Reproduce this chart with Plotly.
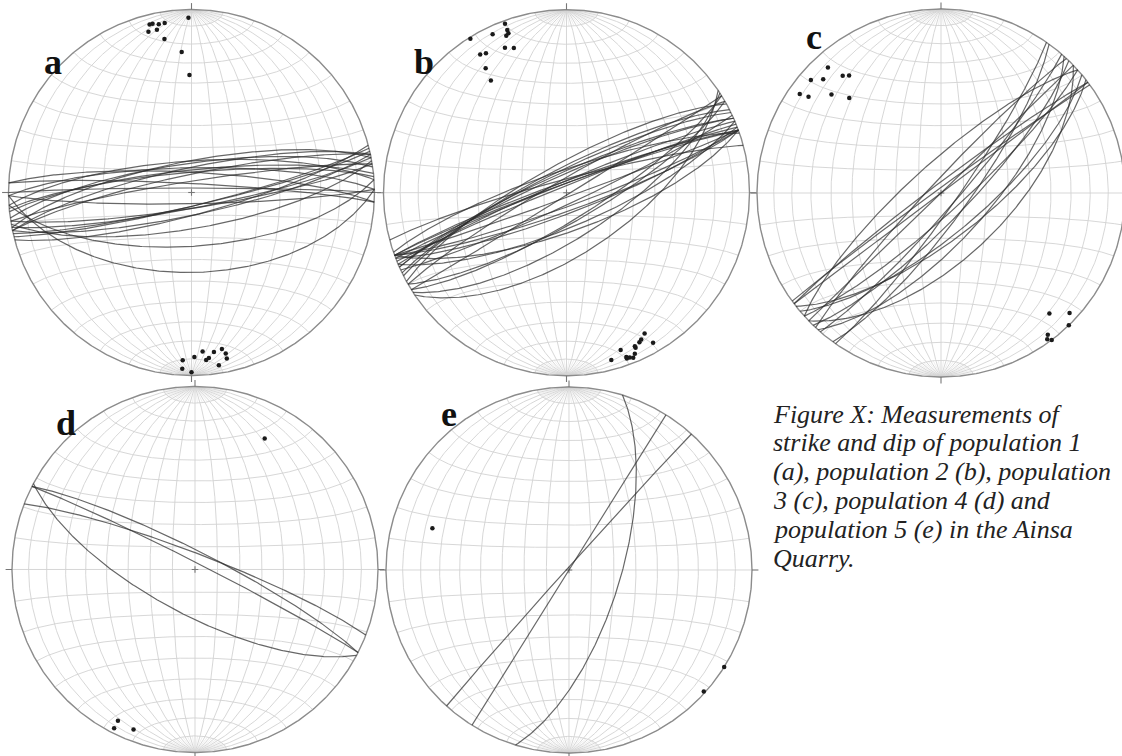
import numpy as np
import plotly.graph_objects as go

W, H = 1122, 756

# ---------------- data: poles to planes, (trend, plunge) in degrees ----------------
a_trend = [359, 346, 347, 349, 351, 345, 348, 350, 356, 359,
           183, 179, 176, 174, 175, 172, 169, 168, 168, 171, 183, 180]
a_plunge = [5, 6, 6, 7, 7, 10, 10, 16, 24, 36,
            9, 11, 14, 10, 9, 13, 14, 11, 8, 5, 4, 2]

b_trend = [328, 335, 340, 340, 340, 339, 337, 340, 328, 330, 327, 326,
           165, 161, 160, 160, 159, 158, 156, 156, 154, 153, 151, 150, 157]
b_plunge = [1, 5, 2, 6, 8, 9, 15, 17, 12, 13, 20, 27,
            6, 10, 5, 4, 4, 3, 8, 9, 10, 11, 13, 6, 5]

c_trend = [318, 311, 314, 320, 322, 305, 306, 312, 316,
           138, 133, 136, 143, 144, 143]
c_plunge = [9, 7, 12, 18, 20, 7, 12, 21, 29,
            13, 5, 0, 4, 2, 0]

d_trend = [28, 207, 207, 201]
d_plunge = [20, 8, 3, 7]

e_trend = [287, 122, 132]
e_plunge = [23, 0, 1]

panel_labels = ["a", "b", "c", "d", "e"]

caption_lines = [
    "Figure X: Measurements of",
    "strike and dip of population 1",
    "(a), population 2 (b), population",
    "3 (c), population 4 (d) and",
    "population 5 (e) in the Ainsa",
    "Quarry.",
]

# ---------------- layout of the five nets (pixel centre / radius) ----------------
nets = [
    dict(cx=191.5, cy=192.5, R=183, trend=a_trend, plunge=a_plunge, lab=(53, 62)),
    dict(cx=566.5, cy=192.7, R=183, trend=b_trend, plunge=b_plunge, lab=(424, 62)),
    dict(cx=941.0, cy=193.0, R=184, trend=c_trend, plunge=c_plunge, lab=(814, 37)),
    dict(cx=195.0, cy=569.5, R=183, trend=d_trend, plunge=d_plunge, lab=(66, 423)),
    dict(cx=569.0, cy=570.0, R=183, trend=e_trend, plunge=e_plunge, lab=(449, 414)),
]

GRID_COL = "#d2d2d2"
CAP_COL = "#e4e4e4"
PRIM_COL = "#8c8c8c"
GC_COL = "rgba(45,45,45,0.72)"
EXT = 1.06


def proj(E, N, D):
    """Lower-hemisphere equal-area (Schmidt) projection, unit primitive."""
    D = np.clip(D, 0.0, 1.0)
    s = np.sqrt(1.0 + D)
    return E / s, N / s


def meridian(lon, lat0, lat1, n):
    phi = np.radians(np.linspace(lat0, lat1, n))
    lam = np.radians(lon)
    return proj(np.cos(phi) * np.sin(lam), np.sin(phi), np.cos(phi) * np.cos(lam))


def grid_xy():
    xs, ys = [], []
    for lon in range(-80, 81, 10):
        x, y = meridian(lon, -90, 90, 361)
        xs += list(x) + [None]
        ys += list(y) + [None]
    lam = np.radians(np.linspace(-90, 90, 361))
    for lat in range(-80, 81, 10):
        ph = np.radians(lat)
        x, y = proj(np.cos(ph) * np.sin(lam), np.full_like(lam, np.sin(ph)), np.cos(ph) * np.cos(lam))
        xs += list(x) + [None]
        ys += list(y) + [None]
    return xs, ys


def cap_xy():
    xs, ys = [], []
    for lon in range(-85, 86, 5):
        if lon % 10 == 0:
            continue
        for a0, a1 in ((80, 90), (-80, -90)):
            x, y = meridian(lon, a0, a1, 21)
            xs += list(x) + [None]
            ys += list(y) + [None]
    return xs, ys


def great_circle(trend, plunge):
    t, p = np.radians(trend), np.radians(plunge)
    s = np.array([np.cos(t), -np.sin(t), 0.0])
    d = np.array([-np.sin(p) * np.sin(t), -np.sin(p) * np.cos(t), np.cos(p)])
    th = np.linspace(0, np.pi, 241)
    v = np.outer(np.cos(th), s) + np.outer(np.sin(th), d)
    return proj(v[:, 0], v[:, 1], v[:, 2])


def pole_xy(trend, plunge):
    t, p = np.radians(np.array(trend, float)), np.radians(np.array(plunge, float))
    return proj(np.sin(t) * np.cos(p), np.cos(t) * np.cos(p), np.sin(p))


fig = go.Figure()
gx, gy = grid_xy()
cx_, cy_ = cap_xy()
circ = np.linspace(0, 2 * np.pi, 721)

for i, net in enumerate(nets):
    xa = "x" if i == 0 else f"x{i+1}"
    ya = "y" if i == 0 else f"y{i+1}"
    cx, cy, R = net["cx"], net["cy"], net["R"]
    left, right = max(0.0, cx - R * EXT), min(float(W), cx + R * EXT)
    top, bottom = max(0.0, cy - R * EXT), min(float(H), cy + R * EXT)
    fig.layout[("xaxis" if i == 0 else f"xaxis{i+1}")] = dict(
        domain=[left / W, right / W], range=[(left - cx) / R, (right - cx) / R],
        visible=False, fixedrange=True, anchor=ya)
    fig.layout[("yaxis" if i == 0 else f"yaxis{i+1}")] = dict(
        domain=[1 - bottom / H, 1 - top / H], range=[(cy - bottom) / R, (cy - top) / R],
        visible=False, fixedrange=True, anchor=xa)

    # polar caps (fine meridians) and net grid
    fig.add_trace(go.Scatter(x=cx_, y=cy_, mode="lines", xaxis=xa, yaxis=ya,
                             line=dict(color=CAP_COL, width=0.6), hoverinfo="skip"))
    fig.add_trace(go.Scatter(x=gx, y=gy, mode="lines", xaxis=xa, yaxis=ya,
                             line=dict(color=GRID_COL, width=0.9), hoverinfo="skip"))
    # primitive circle
    fig.add_trace(go.Scatter(x=np.cos(circ), y=np.sin(circ), mode="lines", xaxis=xa, yaxis=ya,
                             line=dict(color=PRIM_COL, width=1.4), hoverinfo="skip"))
    # N/E/S/W ticks and centre cross
    tx, ty = [], []
    for ang in (0, 90, 180, 270):
        r = np.radians(ang)
        tx += [np.sin(r) * 1.0, np.sin(r) * 1.035, None]
        ty += [np.cos(r) * 1.0, np.cos(r) * 1.035, None]
    tx += [-0.018, 0.018, None, 0, 0, None]
    ty += [0, 0, None, -0.018, 0.018, None]
    fig.add_trace(go.Scatter(x=tx, y=ty, mode="lines", xaxis=xa, yaxis=ya,
                             line=dict(color="#777777", width=1.1), hoverinfo="skip"))
    # great circles
    for t, p in zip(net["trend"], net["plunge"]):
        x, y = great_circle(t, p)
        fig.add_trace(go.Scatter(x=x, y=y, mode="lines", xaxis=xa, yaxis=ya,
                                 line=dict(color=GC_COL, width=1.2), hoverinfo="skip"))
    # poles
    px, py = pole_xy(net["trend"], net["plunge"])
    fig.add_trace(go.Scatter(x=px, y=py, mode="markers", xaxis=xa, yaxis=ya,
                             marker=dict(color="#1a1a1a", size=4.5), hoverinfo="skip"))

    lx, ly = net["lab"]
    fig.add_annotation(x=lx / W, y=1 - ly / H, xref="paper", yref="paper",
                       text=f"<b>{panel_labels[i]}</b>", showarrow=False,
                       xanchor="center", yanchor="middle",
                       font=dict(family="Liberation Serif", size=36, color="#111111"))

baselines = [423, 451, 480, 509, 538, 567]
cap_size = 26
for line, b in zip(caption_lines, baselines):
    fig.add_annotation(x=771 / W, y=1 - (b - 0.34 * cap_size) / H, xref="paper", yref="paper",
                       text=f"<i>{line}</i>", showarrow=False, xanchor="left", yanchor="middle",
                       font=dict(family="Liberation Serif", size=cap_size, color="#222222"))

fig.update_layout(width=W, height=H, margin=dict(l=0, r=0, t=0, b=0),
                  paper_bgcolor="white", plot_bgcolor="rgba(0,0,0,0)", showlegend=False)

fig.write_html("out.html", config={"displayModeBar": False},
               post_script="document.body.style.margin='0px';")
